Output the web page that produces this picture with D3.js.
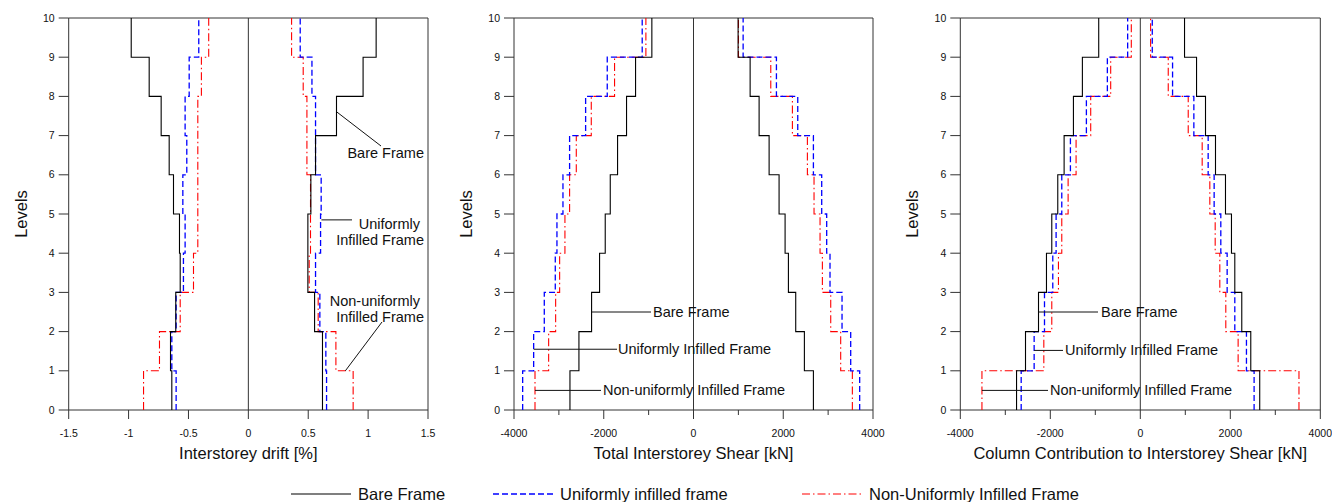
<!DOCTYPE html>
<meta charset="utf-8">
<script src="https://d3js.org/d3.v7.min.js"></script>
<style>
body { margin: 0; background: #fff; }
text { font-family: Arial, "Liberation Sans", sans-serif; fill: #111; }
.frame { fill: none; stroke: #333; stroke-width: 1; }
.tick-lbl { font-size: 10.5px; }
.ann { font-size: 14.5px; }
.axis-title { font-size: 16.5px; }
</style>
<div id="chart"></div>
<script>
// levels (storey boundaries) and storey numbers
var levels = d3.range(0, 11);
var storeys = d3.range(1, 11);

// Interstorey drift [%] per storey 1..10, negative and positive side
var driftBareNeg   = [-0.639, -0.65, -0.606, -0.569, -0.575, -0.625, -0.661, -0.728, -0.828, -0.978];
var driftBarePos   = [0.619, 0.619, 0.553, 0.497, 0.497, 0.522, 0.561, 0.736, 0.958, 1.067];
var driftUniNeg    = [-0.603, -0.639, -0.603, -0.542, -0.528, -0.547, -0.514, -0.528, -0.494, -0.414];
var driftUniPos    = [0.653, 0.647, 0.597, 0.561, 0.603, 0.608, 0.561, 0.561, 0.531, 0.433];
var driftNonNeg    = [-0.875, -0.742, -0.569, -0.458, -0.422, -0.422, -0.422, -0.422, -0.392, -0.331];
var driftNonPos    = [0.875, 0.731, 0.583, 0.508, 0.519, 0.519, 0.489, 0.489, 0.458, 0.361];

// Total interstorey shear [kN]
var shearBareNeg   = [-2753, -2553, -2271, -2093, -1967, -1855, -1692, -1492, -1291, -928];
var shearBarePos   = [2672, 2471, 2278, 2115, 2041, 1907, 1685, 1462, 1262, 994];
var shearUniNeg    = [-3807, -3562, -3325, -3080, -3043, -2909, -2761, -2404, -1922, -1143];
var shearUniPos    = [3703, 3503, 3310, 3042, 2968, 2857, 2672, 2323, 1848, 1106];
var shearNonNeg    = [-3532, -3228, -3072, -2983, -2865, -2761, -2612, -2278, -1759, -1061];
var shearNonPos    = [3540, 3280, 3058, 2872, 2820, 2686, 2538, 2204, 1722, 1002];

// Column contribution to interstorey shear [kN]
var colBareNeg     = [-2750, -2551, -2262, -2085, -1967, -1834, -1693, -1486, -1287, -924];
var colBarePos     = [2654, 2455, 2255, 2100, 2026, 1893, 1671, 1449, 1250, 983];
var colUniNeg      = [-2647, -2359, -2129, -1945, -1871, -1745, -1553, -1198, -732, -281];
var colUniPos      = [2529, 2359, 2100, 1930, 1789, 1641, 1508, 1190, 717, 266];
var colNonNeg      = [-3519, -2144, -1967, -1819, -1745, -1604, -1427, -1102, -658, -200];
var colNonPos      = [3526, 2174, 1900, 1767, 1664, 1545, 1375, 1065, 621, 229];

var driftTicks = [-1.5, -1, -0.5, 0, 0.5, 1, 1.5];
var shearTicks = [-4000, -2000, 0, 2000, 4000];
var shearMinor = [-3000, -1000, 1000, 3000];

var seriesNames = ["Bare Frame", "Uniformly infilled frame", "Non-Uniformly Infilled Frame"];

var styles = [
  {color: "#000", dash: null, width: 1.1},
  {color: "#0000ff", dash: "6,3", width: 1.3},
  {color: "#ff0000", dash: "8,3,1.5,3", width: 1.1}
];

var width = 1332, height = 502;
var svg = d3.select("#chart").append("svg")
    .attr("width", width)
    .attr("height", height);

var yTop = 18, yBot = 410;

var panels = [
  {x0: 68.7, x1: 428, domain: [-1.5, 1.5], ticks: driftTicks, minor: [],
   title: "Interstorey drift [%]",
   data: [[driftBareNeg, driftBarePos], [driftUniNeg, driftUniPos], [driftNonNeg, driftNonPos]]},
  {x0: 514, x1: 873, domain: [-4000, 4000], ticks: shearTicks, minor: shearMinor,
   title: "Total Interstorey Shear [kN]",
   data: [[shearBareNeg, shearBarePos], [shearUniNeg, shearUniPos], [shearNonNeg, shearNonPos]]},
  {x0: 960.3, x1: 1320.3, domain: [-4000, 4000], ticks: shearTicks, minor: shearMinor,
   title: "Column Contribution to Interstorey Shear [kN]",
   data: [[colBareNeg, colBarePos], [colUniNeg, colUniPos], [colNonNeg, colNonPos]]}
];

var y = d3.scaleLinear().domain([0, 10]).range([yBot, yTop]);

// step profile: value of storey i spans level i-1 .. i
function stepPoints(vals) {
  var pts = [];
  vals.forEach(function(v, i) {
    pts.push([v, storeys[i] - 1]);
    pts.push([v, storeys[i]]);
  });
  return pts;
}

panels.forEach(function(p) {
  var x = d3.scaleLinear().domain(p.domain).range([p.x0, p.x1]);
  p.x = x;
  var g = svg.append("g");

  // frame: left, top, right
  g.append("path").attr("class", "frame")
    .attr("d", "M" + x.range()[0] + "," + y(0) + "V" + y(10) + "H" + x.range()[1] + "V" + y(0));
  // bottom axis line
  g.append("line").attr("class", "frame")
    .attr("x1", x.range()[0]).attr("x2", x.range()[1])
    .attr("y1", y(0)).attr("y2", y(0));
  // zero line
  g.append("line").attr("class", "frame")
    .attr("x1", x(0)).attr("x2", x(0))
    .attr("y1", y(0)).attr("y2", y(10));

  // y ticks
  g.selectAll(".yt").data(levels).enter().append("line")
    .attr("class", "frame")
    .attr("x1", x.range()[0] - 10).attr("x2", x.range()[0])
    .attr("y1", function(d) { return y(d); }).attr("y2", function(d) { return y(d); });
  g.selectAll(".yl").data(levels).enter().append("text")
    .attr("class", "tick-lbl")
    .attr("x", x.range()[0] - 14)
    .attr("y", function(d) { return y(d); })
    .attr("dy", "0.35em")
    .attr("text-anchor", "end")
    .text(function(d) { return d; });

  // x ticks
  g.selectAll(".xt").data(p.ticks).enter().append("line")
    .attr("class", "frame")
    .attr("x1", function(d) { return x(d); }).attr("x2", function(d) { return x(d); })
    .attr("y1", y(0)).attr("y2", y(0) + 9);
  g.selectAll(".xm").data(p.minor).enter().append("line")
    .attr("class", "frame")
    .attr("x1", function(d) { return x(d); }).attr("x2", function(d) { return x(d); })
    .attr("y1", y(0)).attr("y2", y(0) + 5);
  g.selectAll(".xl").data(p.ticks).enter().append("text")
    .attr("class", "tick-lbl")
    .attr("x", function(d) { return x(d); })
    .attr("y", 437)
    .attr("text-anchor", "middle")
    .text(function(d) { return d; });

  // axis titles
  g.append("text").attr("class", "axis-title")
    .attr("x", x(0)).attr("y", 459)
    .attr("text-anchor", "middle")
    .text(p.title);
  g.append("text").attr("class", "axis-title")
    .attr("transform", "translate(" + (x.range()[0] - 42) + "," + y(5) + ") rotate(-90)")
    .attr("text-anchor", "middle")
    .text("Levels");

  // step curves
  var line = d3.line()
    .x(function(d) { return x(d[0]); })
    .y(function(d) { return y(d[1]); });
  [2, 1, 0].forEach(function(si) {
    p.data[si].forEach(function(vals) {
      g.append("path")
        .attr("d", line(stepPoints(vals)))
        .attr("fill", "none")
        .attr("stroke", styles[si].color)
        .attr("stroke-width", styles[si].width)
        .attr("stroke-dasharray", styles[si].dash);
    });
  });
});

// annotations
function leader(x1, y1, x2, y2) {
  svg.append("line").attr("x1", x1).attr("y1", y1).attr("x2", x2).attr("y2", y2)
    .attr("stroke", "#111").attr("stroke-width", 1);
}
function note(xp, yp, str, anchor) {
  svg.append("text").attr("class", "ann")
    .attr("x", xp).attr("y", yp)
    .attr("text-anchor", anchor || "start")
    .text(str);
}

var p1 = panels[0], p2 = panels[1], p3 = panels[2];

// panel 1
leader(p1.x(0.74), y(7.6), 381, 146);
note(424, 158, "Bare Frame", "end");
leader(p1.x(0.61), y(4.85), 352, y(4.85));
note(420, 229, "Uniformly", "end");
note(424, 245, "Infilled Frame", "end");
leader(p1.x(0.81), y(1), 382, 322);
note(420, 306, "Non-uniformly", "end");
note(424, 322, "Infilled Frame", "end");

// panel 2
leader(p2.x(shearBareNeg[2]), y(2.5), 651, y(2.5));
note(653, y(2.5) + 5, "Bare Frame");
leader(p2.x(shearUniNeg[1]), y(1.55), 617, y(1.55));
note(618, y(1.55) + 5, "Uniformly Infilled Frame");
leader(p2.x(shearNonNeg[0]), y(0.5), 601, y(0.5));
note(603, y(0.5) + 5, "Non-uniformly Infilled Frame");

// panel 3
leader(p3.x(colBareNeg[2]), y(2.5), 1098, y(2.5));
note(1101, y(2.5) + 5, "Bare Frame");
leader(p3.x(colUniNeg[1]), y(1.52), 1063, y(1.52));
note(1065, y(1.52) + 5, "Uniformly Infilled Frame");
leader(p3.x(colNonNeg[0]), y(0.5), 1048, y(0.5));
note(1050, y(0.5) + 5, "Non-uniformly Infilled Frame");

// legend
var legX = [291, 493, 802];
seriesNames.forEach(function(name, i) {
  svg.append("line")
    .attr("x1", legX[i]).attr("x2", legX[i] + 60)
    .attr("y1", 494).attr("y2", 494)
    .attr("stroke", styles[i].color)
    .attr("stroke-width", styles[i].width)
    .attr("stroke-dasharray", styles[i].dash);
  svg.append("text").attr("class", "axis-title")
    .attr("x", legX[i] + 67).attr("y", 500)
    .text(name);
});
</script>
